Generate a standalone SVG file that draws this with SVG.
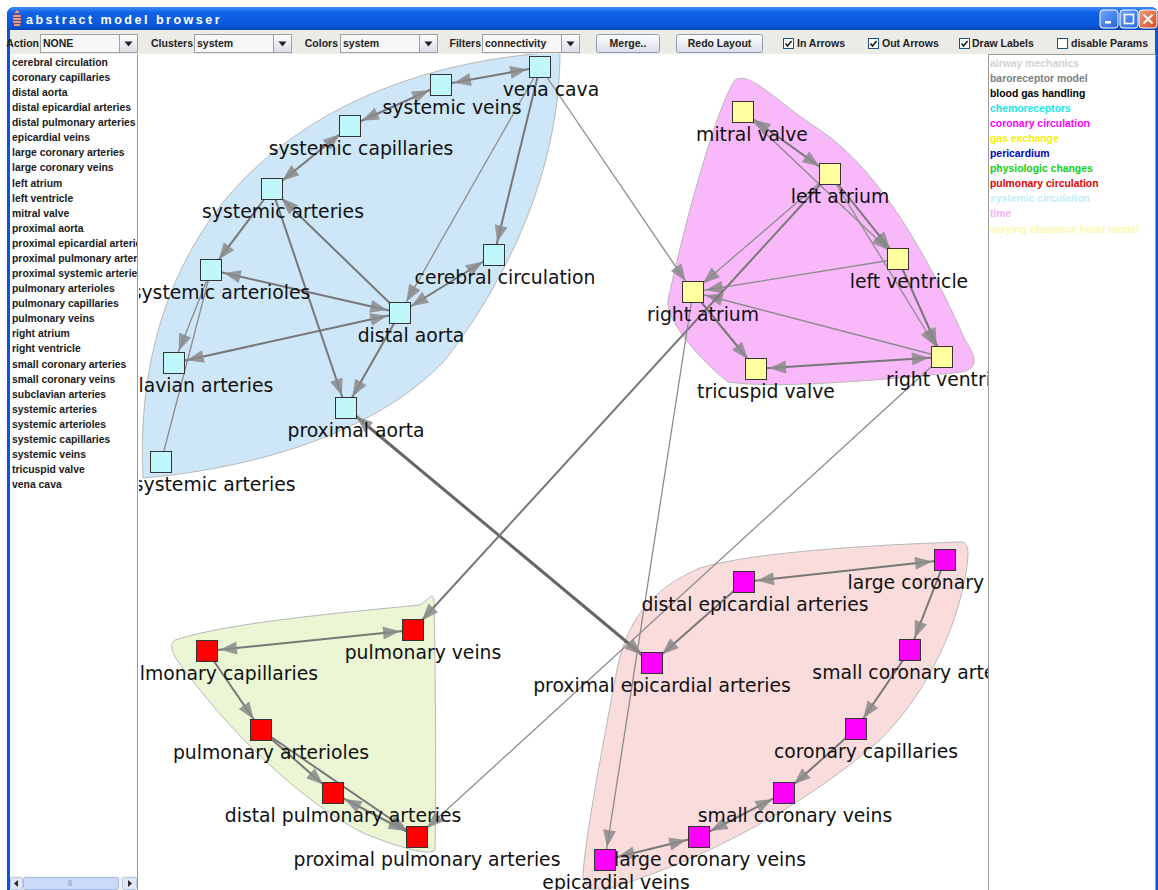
<svg xmlns="http://www.w3.org/2000/svg" width="1158" height="890" viewBox="0 0 1158 890">
  <defs>
    <style>
      .ui { font-family: "Liberation Sans", Arial, sans-serif; font-size: 10.5px; font-weight: bold; fill: #222; }
      .uir { font-family: "Liberation Sans", Arial, sans-serif; font-size: 10.5px; font-weight: bold; fill: #222; text-anchor: end; }
      .lst { font-family: "Liberation Sans", Arial, sans-serif; font-size: 10.4px; font-weight: bold; fill: #1a1a1a; }
      .lg { font-family: "Liberation Sans", Arial, sans-serif; font-size: 10.4px; font-weight: bold; }
      .lbl { font-family: "DejaVu Sans", Verdana, sans-serif; font-size: 18.8px; fill: #111; text-anchor: middle; }
      .e { stroke: #777; stroke-width: 2; fill: none; marker-end: url(#ah); }
      .eb { stroke: #777; stroke-width: 2; fill: none; marker-end: url(#ah); marker-start: url(#ah); }
      .t { stroke: #8c8c8c; stroke-width: 1.3; fill: none; marker-end: url(#ah); }
      .tn { stroke: #8c8c8c; stroke-width: 1.3; fill: none; }
      .k { stroke: #666; stroke-width: 3; fill: none; marker-end: url(#ah); marker-start: url(#ah); }
      .hull { stroke: #b8b8b8; stroke-width: 1; }
      .sys rect { fill: #bff7fa; stroke: #333; stroke-width: 1; }
      .hrt rect { fill: #ffffa0; stroke: #333; stroke-width: 1; }
      .pul rect { fill: #ff0000; stroke: #333; stroke-width: 1; }
      .cor rect { fill: #ff00ff; stroke: #333; stroke-width: 1; }
      .btn { fill: url(#btnGrad); stroke: #8a9bb5; stroke-width: 1; }
      .cb { fill: #fdfdfd; stroke: #1c5180; stroke-width: 1; }
      .combo { fill: #f7f7f7; stroke: #a0a0a0; stroke-width: 1; }
      .carrow { fill: url(#btnGrad); stroke: #a0a0a0; stroke-width: 1; }
    </style>
    <linearGradient id="titleGrad" x1="0" y1="0" x2="0" y2="1">
      <stop offset="0" stop-color="#3c8cf6"/>
      <stop offset="0.25" stop-color="#0f62e6"/>
      <stop offset="0.8" stop-color="#0a56da"/>
      <stop offset="1" stop-color="#0845b8"/>
    </linearGradient>
    <linearGradient id="btnGrad" x1="0" y1="0" x2="0" y2="1">
      <stop offset="0" stop-color="#ffffff"/>
      <stop offset="1" stop-color="#d8dde6"/>
    </linearGradient>
    <linearGradient id="winBtn" x1="0" y1="0" x2="1" y2="1">
      <stop offset="0" stop-color="#6ea6ff"/>
      <stop offset="1" stop-color="#2a63e0"/>
    </linearGradient>
    <linearGradient id="closeBtn" x1="0" y1="0" x2="1" y2="1">
      <stop offset="0" stop-color="#f19a7c"/>
      <stop offset="1" stop-color="#d84a22"/>
    </linearGradient>
    <marker id="ah" viewBox="-20 -8 40 16" markerUnits="userSpaceOnUse" markerWidth="40" markerHeight="16" refX="13" refY="0" orient="auto-start-reverse" overflow="visible">
      <path d="M0,0 L-17,-6.5 L-17,6.5 Z" fill="#8a8a8a" fill-opacity="0.85"/>
    </marker>
    <clipPath id="canvasClip"><rect x="139" y="54" width="849" height="836"/></clipPath>
    <clipPath id="listClip"><rect x="10" y="55" width="127" height="820"/></clipPath>
  </defs>

  <!-- window frame -->
  <rect x="0" y="0" width="1158" height="890" fill="#ffffff"/>
  <path d="M7,890 L7,15 Q7,7 15,7 L1150,7 Q1158,7 1158,15 L1158,890 Z" fill="#0a56da"/>
  <path d="M7,15 Q7,7 15,7 L1150,7 Q1158,7 1158,15 L1158,30 L7,30 Z" fill="url(#titleGrad)"/>
  <g id="title">
    <path d="M14,13 l3,-3 l3,3 z M13,15 h8 v2 h-8 z M13,18 h8 v2 h-8 z M13,21 h8 v2 h-8 z M14,24 h6 v2 h-6 z" fill="#f0c8a8" stroke="#c04030" stroke-width="0.6"/>
    <text x="26" y="24" font-family="Liberation Sans, Arial, sans-serif" font-size="12.5" font-weight="bold" letter-spacing="2.5" fill="#ffffff">abstract model browser</text>
  </g>
  <g id="window-buttons">
    <rect x="1100" y="10" width="18" height="18" rx="3" fill="url(#winBtn)" stroke="#ffffff" stroke-width="1"/>
    <rect x="1105" y="21" width="6" height="2.5" fill="#ffffff"/>
    <rect x="1120" y="10" width="18" height="18" rx="3" fill="url(#winBtn)" stroke="#ffffff" stroke-width="1"/>
    <rect x="1124.5" y="14.5" width="9" height="9" fill="none" stroke="#ffffff" stroke-width="1.6"/>
    <rect x="1139" y="10" width="18" height="18" rx="3" fill="url(#closeBtn)" stroke="#ffffff" stroke-width="1"/>
    <path d="M1143.5,14.5 L1152.5,23.5 M1152.5,14.5 L1143.5,23.5" stroke="#ffffff" stroke-width="2"/>
  </g>

  <!-- toolbar -->
  <rect x="10" y="30" width="1145" height="24" fill="#ecebe6"/>
  <g id="toolbar">
    <text class="uir" x="39" y="47">Action</text>
    <rect class="combo" x="40.5" y="34.5" width="97" height="18"/>
    <rect class="carrow" x="119.5" y="34.5" width="18" height="18"/>
    <path d="M124.5,41.5 h8 l-4,5 z" fill="#222"/>
    <text class="ui" x="43" y="47">NONE</text>

    <text class="uir" x="193" y="47">Clusters</text>
    <rect class="combo" x="194.5" y="34.5" width="97" height="18"/>
    <rect class="carrow" x="273.5" y="34.5" width="18" height="18"/>
    <path d="M278.5,41.5 h8 l-4,5 z" fill="#222"/>
    <text class="ui" x="197" y="47">system</text>

    <text class="uir" x="338" y="47">Colors</text>
    <rect class="combo" x="340.5" y="34.5" width="97" height="18"/>
    <rect class="carrow" x="419.5" y="34.5" width="18" height="18"/>
    <path d="M424.5,41.5 h8 l-4,5 z" fill="#222"/>
    <text class="ui" x="343" y="47">system</text>

    <text class="uir" x="481" y="47">Filters</text>
    <rect class="combo" x="482.5" y="34.5" width="97" height="18"/>
    <rect class="carrow" x="561.5" y="34.5" width="18" height="18"/>
    <path d="M566.5,41.5 h8 l-4,5 z" fill="#222"/>
    <text class="ui" x="485" y="47">connectivity</text>

    <rect class="btn" x="596.5" y="34.5" width="63" height="18" rx="2"/>
    <text class="ui" x="628" y="47" text-anchor="middle">Merge..</text>
    <rect class="btn" x="676.5" y="34.5" width="86" height="18" rx="2"/>
    <text class="ui" x="719.5" y="47" text-anchor="middle">Redo Layout</text>

    <rect class="cb" x="783.5" y="38.5" width="10" height="10"/>
    <path d="M785.5,43.5 l2,2.5 l4,-5" stroke="#1a1a1a" stroke-width="1.5" fill="none"/>
    <text class="ui" x="797" y="47">In Arrows</text>
    <rect class="cb" x="868.5" y="38.5" width="10" height="10"/>
    <path d="M870.5,43.5 l2,2.5 l4,-5" stroke="#1a1a1a" stroke-width="1.5" fill="none"/>
    <text class="ui" x="882" y="47">Out Arrows</text>
    <rect class="cb" x="959.5" y="38.5" width="10" height="10"/>
    <path d="M961.5,43.5 l2,2.5 l4,-5" stroke="#1a1a1a" stroke-width="1.5" fill="none"/>
    <text class="ui" x="972" y="47">Draw Labels</text>
    <rect class="cb" x="1057.5" y="38.5" width="10" height="10"/>
    <text class="ui" x="1071" y="47">disable Params</text>
  </g>

  <!-- node list panel -->
  <rect x="10" y="54" width="129" height="836" fill="#ffffff"/>
  <line x1="137.5" y1="54" x2="137.5" y2="890" stroke="#9a9a9a"/>
  <g id="node-list" clip-path="url(#listClip)">
    <text class="lst" x="12" y="66">cerebral circulation</text>
    <text class="lst" x="12" y="81">coronary capillaries</text>
    <text class="lst" x="12" y="96">distal aorta</text>
    <text class="lst" x="12" y="111">distal epicardial arteries</text>
    <text class="lst" x="12" y="126">distal pulmonary arteries</text>
    <text class="lst" x="12" y="141">epicardial veins</text>
    <text class="lst" x="12" y="156">large coronary arteries</text>
    <text class="lst" x="12" y="171">large coronary veins</text>
    <text class="lst" x="12" y="187">left atrium</text>
    <text class="lst" x="12" y="202">left ventricle</text>
    <text class="lst" x="12" y="217">mitral valve</text>
    <text class="lst" x="12" y="232">proximal aorta</text>
    <text class="lst" x="12" y="247">proximal epicardial arteries</text>
    <text class="lst" x="12" y="262">proximal pulmonary arteries</text>
    <text class="lst" x="12" y="277">proximal systemic arteries</text>
    <text class="lst" x="12" y="292">pulmonary arterioles</text>
    <text class="lst" x="12" y="307">pulmonary capillaries</text>
    <text class="lst" x="12" y="322">pulmonary veins</text>
    <text class="lst" x="12" y="337">right atrium</text>
    <text class="lst" x="12" y="352">right ventricle</text>
    <text class="lst" x="12" y="368">small coronary arteries</text>
    <text class="lst" x="12" y="383">small coronary veins</text>
    <text class="lst" x="12" y="398">subclavian arteries</text>
    <text class="lst" x="12" y="413">systemic arteries</text>
    <text class="lst" x="12" y="428">systemic arterioles</text>
    <text class="lst" x="12" y="443">systemic capillaries</text>
    <text class="lst" x="12" y="458">systemic veins</text>
    <text class="lst" x="12" y="473">tricuspid valve</text>
    <text class="lst" x="12" y="488">vena cava</text>
  </g>
  <g id="list-scrollbar">
    <rect x="10" y="876" width="127" height="14" fill="#f4f3ee"/>
    <rect x="10.5" y="877.5" width="12" height="12" rx="2" fill="#dfe8f7" stroke="#b8c7e2"/>
    <path d="M18,880 v7 l-4,-3.5 z" fill="#2a2a2a"/>
    <rect x="23.5" y="877.5" width="95" height="12" rx="2" fill="#cbdaf6" stroke="#a9bde3"/>
    <path d="M69,880 v6 M71,880 v6" stroke="#8aa3d0"/>
    <rect x="122.5" y="877.5" width="14" height="12" rx="2" fill="#dfe8f7" stroke="#b8c7e2"/>
    <path d="M128,880 v7 l4,-3.5 z" fill="#2a2a2a"/>
  </g>

  <!-- legend panel -->
  <rect x="988.5" y="54.5" width="167" height="836" fill="#ffffff" stroke="#9a9a9a"/>
  <g id="legend">
    <text class="lg" x="990" y="67" fill="#d2d2d2">airway mechanics</text>
    <text class="lg" x="990" y="82" fill="#808080">baroreceptor model</text>
    <text class="lg" x="990" y="97" fill="#000000">blood gas handling</text>
    <text class="lg" x="990" y="112" fill="#16e6e6">chemoreceptors</text>
    <text class="lg" x="990" y="127" fill="#ff00ff">coronary circulation</text>
    <text class="lg" x="990" y="142" fill="#f5f000">gas exchange</text>
    <text class="lg" x="990" y="157" fill="#0000c8">pericardium</text>
    <text class="lg" x="990" y="172" fill="#10d010">physiologic changes</text>
    <text class="lg" x="990" y="187" fill="#e00000">pulmonary circulation</text>
    <text class="lg" x="990" y="202" fill="#c4eef8">systemic circulation</text>
    <text class="lg" x="990" y="217" fill="#f8b2f8">time</text>
    <text class="lg" x="990" y="233" fill="#fbfab0">varying elastance heart model</text>
  </g>

  <!-- graph canvas -->
  <rect x="138" y="54" width="850" height="836" fill="#ffffff"/>
  <g clip-path="url(#canvasClip)">
    <g id="clusters">
      <path id="hull-systemic" class="hull" fill="#cde6f8" d="M560,52 C560,160 515,270 445,360 C380,430 260,468 143,478 C138,380 160,280 225,200 C300,110 420,60 560,52 Z"/>
      <path id="hull-heart" class="hull" fill="#f9b8f9" d="M735,80 C720,100 690,200 668,300 C665,320 700,360 728,382 C780,390 900,378 962,372 C980,368 975,355 965,340 C930,260 880,170 820,130 C780,105 750,70 735,80 Z"/>
      <path id="hull-pulmonary" class="hull" fill="#ebf7d4" d="M175,640 C230,622 350,612 420,605 C430,598 433,592 434,600 C436,700 436,800 435,850 C430,856 400,848 363,833 C300,800 240,740 200,690 C180,665 165,648 175,640 Z"/>
      <path id="hull-coronary" class="hull" fill="#fbdcdc" d="M960,542 C900,544 760,550 700,568 C650,590 625,620 615,680 C600,760 585,840 583,875 C585,893 600,893 620,885 C700,860 800,810 880,740 C940,680 965,600 968,555 C968,545 965,541 960,542 Z"/>
    </g>

    <g id="connectors">
      <!-- systemic circulation -->
      <line class="eb" x1="540" y1="67" x2="441" y2="85"/>
      <line class="eb" x1="441" y1="85" x2="350" y2="126"/>
      <line class="eb" x1="350" y1="126" x2="272" y2="189"/>
      <line class="e" x1="272" y1="189" x2="211" y2="270"/>
      <line class="eb" x1="211" y1="270" x2="400" y2="313"/>
      <line class="e" x1="400" y1="313" x2="272" y2="189"/>
      <line class="e" x1="272" y1="189" x2="346" y2="408"/>
      <line class="e" x1="400" y1="313" x2="346" y2="408"/>
      <line class="e" x1="540" y1="67" x2="494" y2="255"/>
      <line class="t" x1="540" y1="67" x2="400" y2="313"/>
      <line class="eb" x1="494" y1="255" x2="400" y2="313"/>
      <line class="t" x1="211" y1="270" x2="174" y2="363"/>
      <line class="tn" x1="211" y1="270" x2="161" y2="462"/>
      <line class="eb" x1="400" y1="313" x2="174" y2="363"/>
      <line class="t" x1="540" y1="67" x2="693" y2="292"/>
      <line class="k" x1="346" y1="408" x2="652" y2="663"/>
      <!-- heart -->
      <line class="eb" x1="743" y1="112" x2="830" y2="174"/>
      <line class="t" x1="743" y1="112" x2="898" y2="259"/>
      <line class="e" x1="830" y1="174" x2="898" y2="259"/>
      <line class="e" x1="898" y1="259" x2="942" y2="357"/>
      <line class="t" x1="830" y1="174" x2="942" y2="357"/>
      <line class="t" x1="830" y1="174" x2="693" y2="292"/>
      <line class="t" x1="898" y1="259" x2="693" y2="292"/>
      <line class="t" x1="942" y1="357" x2="693" y2="292"/>
      <line class="e" x1="693" y1="292" x2="756" y2="369"/>
      <line class="eb" x1="756" y1="369" x2="942" y2="357"/>
      <line class="e" x1="830" y1="174" x2="413" y2="630"/>
      <line class="t" x1="693" y1="292" x2="605" y2="860"/>
      <line class="t" x1="942" y1="357" x2="417" y2="837"/>
      <!-- pulmonary circulation -->
      <line class="eb" x1="413" y1="630" x2="207" y2="651"/>
      <line class="e" x1="207" y1="651" x2="261" y2="730"/>
      <line class="e" x1="261" y1="730" x2="333" y2="793"/>
      <line class="e" x1="261" y1="730" x2="417" y2="837"/>
      <line class="eb" x1="417" y1="837" x2="333" y2="793"/>
      <!-- coronary circulation -->
      <line class="eb" x1="945" y1="560" x2="744" y2="582"/>
      <line class="e" x1="744" y1="582" x2="652" y2="663"/>
      <line class="e" x1="945" y1="560" x2="910" y2="650"/>
      <line class="e" x1="910" y1="650" x2="856" y2="729"/>
      <line class="e" x1="856" y1="729" x2="784" y2="793"/>
      <line class="eb" x1="784" y1="793" x2="699" y2="837"/>
      <line class="eb" x1="699" y1="837" x2="605" y2="860"/>
    </g>

    <g class="sys">
      <g id="n-vena-cava"><rect x="529.5" y="56.5" width="21" height="21"/><text class="lbl" x="551" y="96">vena cava</text></g>
      <g id="n-systemic-veins"><rect x="430.5" y="74.5" width="21" height="21"/><text class="lbl" x="452" y="114">systemic veins</text></g>
      <g id="n-systemic-capillaries"><rect x="339.5" y="115.5" width="21" height="21"/><text class="lbl" x="361" y="155">systemic capillaries</text></g>
      <g id="n-systemic-arteries"><rect x="261.5" y="178.5" width="21" height="21"/><text class="lbl" x="283" y="218">systemic arteries</text></g>
      <g id="n-systemic-arterioles"><rect x="200.5" y="259.5" width="21" height="21"/><text class="lbl" x="221" y="299">systemic arterioles</text></g>
      <g id="n-cerebral-circulation"><rect x="483.5" y="244.5" width="21" height="21"/><text class="lbl" x="505" y="284">cerebral circulation</text></g>
      <g id="n-distal-aorta"><rect x="389.5" y="302.5" width="21" height="21"/><text class="lbl" x="411" y="342">distal aorta</text></g>
      <g id="n-subclavian-arteries"><rect x="163.5" y="352.5" width="21" height="21"/><text class="lbl" x="184" y="392">subclavian arteries</text></g>
      <g id="n-proximal-aorta"><rect x="335.5" y="397.5" width="21" height="21"/><text class="lbl" x="356" y="437">proximal aorta</text></g>
      <g id="n-proximal-systemic-arteries"><rect x="150.5" y="451.5" width="21" height="21"/><text class="lbl" x="171" y="491">proximal systemic arteries</text></g>
    </g>
    <g class="hrt">
      <g id="n-mitral-valve"><rect x="732.5" y="101.5" width="21" height="21"/><text class="lbl" x="752" y="141">mitral valve</text></g>
      <g id="n-left-atrium"><rect x="819.5" y="163.5" width="21" height="21"/><text class="lbl" x="840" y="203">left atrium</text></g>
      <g id="n-left-ventricle"><rect x="887.5" y="248.5" width="21" height="21"/><text class="lbl" x="909" y="288">left ventricle</text></g>
      <g id="n-right-atrium"><rect x="682.5" y="281.5" width="21" height="21"/><text class="lbl" x="703" y="321">right atrium</text></g>
      <g id="n-tricuspid-valve"><rect x="745.5" y="358.5" width="21" height="21"/><text class="lbl" x="766" y="398">tricuspid valve</text></g>
      <g id="n-right-ventricle"><rect x="931.5" y="346.5" width="21" height="21"/><text class="lbl" x="952" y="386">right ventricle</text></g>
    </g>
    <g class="pul">
      <g id="n-pulmonary-veins"><rect x="402.5" y="619.5" width="21" height="21"/><text class="lbl" x="423" y="659">pulmonary veins</text></g>
      <g id="n-pulmonary-capillaries"><rect x="196.5" y="640.5" width="21" height="21"/><text class="lbl" x="217" y="680">pulmonary capillaries</text></g>
      <g id="n-pulmonary-arterioles"><rect x="250.5" y="719.5" width="21" height="21"/><text class="lbl" x="271" y="759">pulmonary arterioles</text></g>
      <g id="n-distal-pulmonary-arteries"><rect x="322.5" y="782.5" width="21" height="21"/><text class="lbl" x="343" y="822">distal pulmonary arteries</text></g>
      <g id="n-proximal-pulmonary-arteries"><rect x="406.5" y="826.5" width="21" height="21"/><text class="lbl" x="427" y="866">proximal pulmonary arteries</text></g>
    </g>
    <g class="cor">
      <g id="n-large-coronary-arteries"><rect x="934.5" y="549.5" width="21" height="21"/><text class="lbl" x="955" y="589">large coronary arteries</text></g>
      <g id="n-distal-epicardial-arteries"><rect x="733.5" y="571.5" width="21" height="21"/><text class="lbl" x="755" y="611">distal epicardial arteries</text></g>
      <g id="n-small-coronary-arteries"><rect x="899.5" y="639.5" width="21" height="21"/><text class="lbl" x="921" y="679">small coronary arteries</text></g>
      <g id="n-proximal-epicardial-arteries"><rect x="641.5" y="652.5" width="21" height="21"/><text class="lbl" x="662" y="692">proximal epicardial arteries</text></g>
      <g id="n-coronary-capillaries"><rect x="845.5" y="718.5" width="21" height="21"/><text class="lbl" x="866" y="758">coronary capillaries</text></g>
      <g id="n-small-coronary-veins"><rect x="773.5" y="782.5" width="21" height="21"/><text class="lbl" x="795" y="822">small coronary veins</text></g>
      <g id="n-large-coronary-veins"><rect x="688.5" y="826.5" width="21" height="21"/><text class="lbl" x="710" y="866">large coronary veins</text></g>
      <g id="n-epicardial-veins"><rect x="594.5" y="849.5" width="21" height="21"/><text class="lbl" x="616" y="889">epicardial veins</text></g>
    </g>
  </g>
</svg>
